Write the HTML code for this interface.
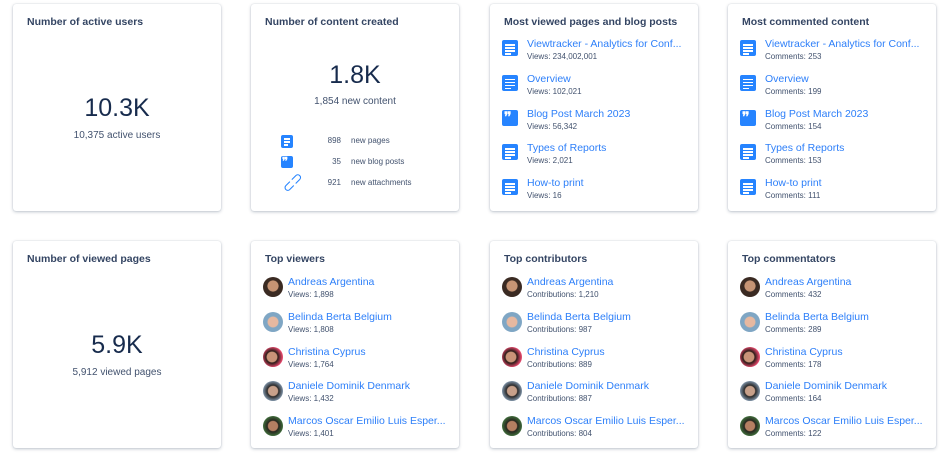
<!DOCTYPE html>
<html><head><meta charset="utf-8"><style>
*{margin:0;padding:0;box-sizing:border-box}
body{width:952px;height:464px;background:#fff;font-family:"Liberation Sans",sans-serif;color:#172b4d;position:relative;overflow:hidden}
.card{position:absolute;width:208px;height:207px;background:#fff;border-radius:3px;box-shadow:0 1px 3px rgba(9,30,66,.25),0 0 1px rgba(9,30,66,.2)}
.t{position:absolute;left:14px;top:12px;font-size:10.5px;font-weight:bold;color:#344563}
.big{position:absolute;left:0;right:0;text-align:center;font-size:25px;color:#172b4d}
.sub{position:absolute;left:0;right:0;text-align:center;font-size:10px;color:#42526e}
.item{position:absolute;left:12px;height:30px;width:190px}
.ic{position:absolute;left:0;top:3px;width:16px;height:16px;background:#2684ff;border-radius:2px}
.ic i{position:absolute;left:3px;height:1.5px;background:#fff}
.ic b{position:absolute;color:#fff;font-size:13px;font-weight:bold;left:2px;top:-1px;letter-spacing:-1px;font-family:"Liberation Serif",serif}
.av{position:absolute;left:0;top:2px;width:20px;height:20px;border-radius:50%}
.nm{position:absolute;left:25px;top:1px;font-size:10.5px;color:#2d7ff9;white-space:nowrap}
.sm{position:absolute;left:25px;top:15px;font-size:8px;color:#42526e;white-space:nowrap}
.row{position:absolute;left:0;font-size:8px;color:#42526e}
</style></head><body>

<div class="card" style="left:13px;top:4px"><div class="t">Number of active users</div><div class="big" style="top:90px">10.3K</div><div class="sub" style="top:126px">10,375 active users</div></div>

<div class="card" style="left:251px;top:4px"><div class="t">Number of content created</div><div class="big" style="top:57px">1.8K</div><div class="sub" style="top:92px">1,854 new content</div>
<div class="row" style="top:131px;width:208px">
 <div class="ic" style="left:30px;top:0;width:12px;height:13px"><i style="top:3px;width:6px"></i><i style="top:6px;width:6px"></i><i style="top:9px;width:4px"></i></div>
 <span style="position:absolute;right:118px;top:1px">898</span><span style="position:absolute;left:100px;top:1px">new pages</span></div>
<div class="row" style="top:152px;width:208px">
 <div class="ic" style="left:30px;top:0;width:12px;height:12px"><b style="font-size:11px;left:1px">❜❜</b></div>
 <span style="position:absolute;right:118px;top:1px">35</span><span style="position:absolute;left:100px;top:1px">new blog posts</span></div>
<div class="row" style="top:173px;width:208px">
 <span style="position:absolute;left:30px;top:-3px;color:#2684ff;font-size:14px;transform:rotate(-45deg)">⊂⊃</span>
 <span style="position:absolute;right:118px;top:1px">921</span><span style="position:absolute;left:100px;top:1px">new attachments</span></div>
</div>

<div class="card" style="left:490px;top:4px" id="c3"><div class="t">Most viewed pages and blog posts</div></div>
<div class="card" style="left:728px;top:4px" id="c4"><div class="t">Most commented content</div></div>

<div class="card" style="left:13px;top:241px"><div class="t">Number of viewed pages</div><div class="big" style="top:90px">5.9K</div><div class="sub" style="top:126px">5,912 viewed pages</div></div>
<div class="card" style="left:251px;top:241px" id="c6"><div class="t">Top viewers</div></div>
<div class="card" style="left:490px;top:241px" id="c7"><div class="t">Top contributors</div></div>
<div class="card" style="left:728px;top:241px" id="c8"><div class="t">Top commentators</div></div>

<script>
const pages=["Viewtracker - Analytics for Conf...","Overview","Blog Post March 2023","Types of Reports","How-to print"];
const v=["Views: 234,002,001","Views: 102,021","Views: 56,342","Views: 2,021","Views: 16"];
const c=["Comments: 253","Comments: 199","Comments: 154","Comments: 153","Comments: 111"];
function icon(i){return i==2?'<div class="ic"><b>❜❜</b></div>':'<div class="ic"><i style="top:4px;width:10px"></i><i style="top:7px;width:10px"></i><i style="top:10px;width:10px"></i><i style="top:13px;width:6px"></i></div>'}
function fillP(id,s){let h='';for(let i=0;i<5;i++)h+=`<div class="item" style="top:${33+i*34.8}px">${icon(i)}<div class="nm">${pages[i]}</div><div class="sm">${s[i]}</div></div>`;document.getElementById(id).innerHTML+=h}
fillP('c3',v);fillP('c4',c);
const names=["Andreas Argentina","Belinda Berta Belgium","Christina Cyprus","Daniele Dominik Denmark","Marcos Oscar Emilio Luis Esper..."];
const cols=["radial-gradient(circle at 50% 45%,#c69474 35%,#3a2a22 40%)","radial-gradient(circle at 50% 50%,#e6b8a0 35%,#7fa6c4 42%)","radial-gradient(circle at 45% 50%,#c99378 33%,#2a1c18 40%,#e2476a 70%)","radial-gradient(circle at 50% 50%,#c7a08a 33%,#2b2a2a 40%,#7b8fa3 70%)","radial-gradient(circle at 50% 50%,#b57f62 33%,#27261f 40%,#3f6b3a 70%)"];
function fillU(id,s){let h='';for(let i=0;i<5;i++)h+=`<div class="item" style="top:${34+i*34.8}px"><div class="av" style="background:${cols[i]}"></div><div class="nm">${names[i]}</div><div class="sm">${s[i]}</div></div>`;document.getElementById(id).innerHTML+=h}
fillU('c6',["Views: 1,898","Views: 1,808","Views: 1,764","Views: 1,432","Views: 1,401"]);
fillU('c7',["Contributions: 1,210","Contributions: 987","Contributions: 889","Contributions: 887","Contributions: 804"]);
fillU('c8',["Comments: 432","Comments: 289","Comments: 178","Comments: 164","Comments: 122"]);
</script>
</body></html>
